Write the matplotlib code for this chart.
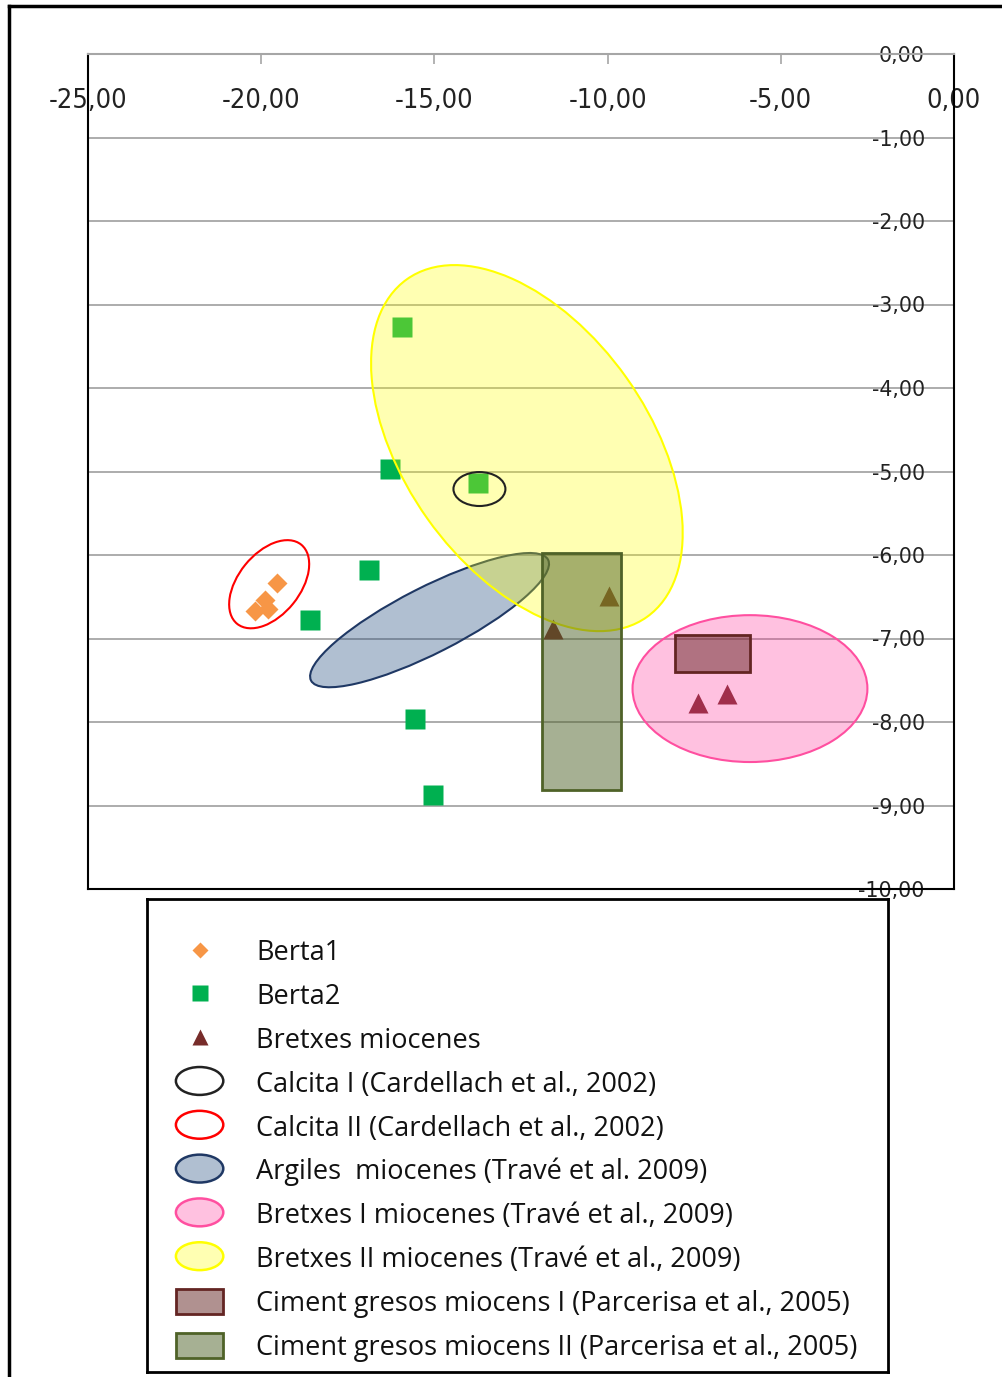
import matplotlib
matplotlib.use('Agg')
import matplotlib.pyplot as plt
import matplotlib.patches as mpatches
from matplotlib.lines import Line2D
from matplotlib.legend_handler import HandlerPatch
from matplotlib.transforms import Affine2D
from matplotlib.colors import to_rgba

plt.rcParams['font.family'] = ['Open Sans', 'DejaVu Sans']

# samples
berta1_x = [-19.55, -19.89, -20.18, -19.80]
berta1_y = [-6.34, -6.54, -6.67, -6.65]

berta2_x = [-15.94, -16.28, -13.74, -16.90, -18.59, -15.55, -15.03]
berta2_y = [-3.27, -4.97, -5.14, -6.18, -6.78, -7.96, -8.87]

bretxes_x = [-9.97, -11.57, -7.38, -6.54]
bretxes_y = [-6.49, -6.89, -7.77, -7.67]

# literature fields: centre x, centre y, semi axes (in x units), angle
ell_names = ['Calcita I (Cardellach et al., 2002)',
             'Calcita II (Cardellach et al., 2002)',
             'Argiles  miocenes (Travé et al. 2009)',
             'Bretxes I miocenes (Travé et al., 2009)',
             'Bretxes II miocenes (Travé et al., 2009)']
ell_cx = [-13.70, -19.77, -15.14, -5.89, -12.33]
ell_cy = [-5.21, -6.35, -6.78, -7.60, -4.72]
ell_a = [0.75, 1.47, 3.84, 3.39, 5.98]
ell_b = [0.49, 0.89, 0.95, 2.12, 3.52]
ell_ang = [0, 51, 27, 0, -54.6]
ell_edge = ['#222222', '#ff0000', '#1f3864', '#ff4fa0', '#ffff00']
ell_face = [None, None, '#1f497d', '#ff3399', '#ffff00']
ell_alpha = [0, 0, 0.35, 0.3, 0.3]

rect_names = ['Ciment gresos miocens I (Parcerisa et al., 2005)',
              'Ciment gresos miocens II (Parcerisa et al., 2005)']
rect_x0 = [-8.05, -11.88]
rect_x1 = [-5.89, -9.61]
rect_y0 = [-7.40, -8.81]
rect_y1 = [-6.96, -5.98]
rect_col = ['#632523', '#4f6228']

xticks = [-25, -20, -15, -10, -5, 0]
yticks = [0, -1, -2, -3, -4, -5, -6, -7, -8, -9, -10]


def fmt(v):
    return f'{v:.2f}'.replace('.', ',')


W, H = 1003, 1377
fig = plt.figure(figsize=(W / 100, H / 100), dpi=100)

# outer frame
fig.add_artist(Line2D([9 / W, 1], [1 - 6 / H, 1 - 6 / H], color='black', lw=2.5, transform=fig.transFigure))
fig.add_artist(Line2D([9 / W, 9 / W], [0, 1 - 6 / H], color='black', lw=2.5, transform=fig.transFigure))

ax = fig.add_axes([88 / W, 1 - 889 / H, 866 / W, 835 / H])
ax.set_xlim(-25, 0)
ax.set_ylim(-10, 0)

ax.plot(berta1_x, berta1_y, 'D', color='#f79646', ms=10.5, mec='none', zorder=3)
ax.plot(berta2_x, berta2_y, 's', color='#00b050', ms=14.5, mec='none', zorder=3)
ax.plot(bretxes_x, bretxes_y, '^', color='#772c2a', ms=15, mec='none', zorder=3)

# ellipses drawn in a space with equal pixel scale
pos = ax.get_position()
k = (pos.height * H / 10) / (pos.width * W / 25)
tr = Affine2D().scale(1, 1 / k) + ax.transData
draw_order = [2, 4, 0, 1, 3]
for i in draw_order:
    fc = 'none' if ell_face[i] is None else to_rgba(ell_face[i], ell_alpha[i])
    e = mpatches.Ellipse((ell_cx[i], ell_cy[i] * k), 2 * ell_a[i], 2 * ell_b[i], angle=ell_ang[i],
                         facecolor=fc, edgecolor=ell_edge[i], lw=1.5, transform=tr, zorder=4)
    ax.add_patch(e)

for i in range(len(rect_names)):
    r = mpatches.Rectangle((rect_x0[i], rect_y0[i]), rect_x1[i] - rect_x0[i], rect_y1[i] - rect_y0[i],
                           facecolor=to_rgba(rect_col[i], 0.5), edgecolor=rect_col[i], lw=2, zorder=5)
    ax.add_patch(r)

# axes styling
ax.set_axisbelow(True)
ax.yaxis.grid(True, color='#a6a6a6', lw=1.3)
ax.xaxis.tick_top()
ax.set_xticks(xticks, labels=[fmt(v) for v in xticks])
ax.tick_params(axis='x', direction='in', length=7, width=1.2, color='#a6a6a6', pad=-43.5,
               labelcolor='#222222')
for lab in ax.get_xticklabels():
    lab.set_family('DejaVu Sans')
    lab.set_fontstretch('condensed')
    lab.set_fontsize(19.5)
ax.yaxis.tick_right()
ax.set_yticks(yticks, labels=[fmt(v) for v in yticks])
ax.tick_params(axis='y', length=0, pad=-21, labelsize=14.8, labelcolor='#222222',
               labelfontfamily=['DejaVu Sans'])
for t in ax.yaxis.get_major_ticks():
    t.label2.set_horizontalalignment('right')

for s in ['left', 'bottom', 'right']:
    ax.spines[s].set_color('black')
    ax.spines[s].set_linewidth(1.5)
ax.spines['top'].set_color('#a6a6a6')
ax.spines['top'].set_linewidth(1.5)

# legend box
lax = fig.add_axes([147 / W, (H - 1372) / H, 741 / W, 473 / H])
lax.set_xticks([])
lax.set_yticks([])
for s in lax.spines.values():
    s.set_linewidth(2)
    s.set_color('black')


def make_ellipse(legend, orig_handle, xdescent, ydescent, width, height, fontsize):
    return mpatches.Ellipse(xy=(0.5 * width - 0.5 * xdescent, 0.5 * height - 0.5 * ydescent),
                            width=width + xdescent, height=height + ydescent)


handles = [
    Line2D([], [], marker='D', ls='none', color='#f79646', ms=10.5, mec='none'),
    Line2D([], [], marker='s', ls='none', color='#00b050', ms=14.5, mec='none'),
    Line2D([], [], marker='^', ls='none', color='#772c2a', ms=15, mec='none'),
]
labels = ['Berta1', 'Berta2', 'Bretxes miocenes']
for i in range(len(ell_names)):
    fc = 'none' if ell_face[i] is None else to_rgba(ell_face[i], ell_alpha[i])
    handles.append(mpatches.Ellipse((0, 0), 1, 1, facecolor=fc, edgecolor=ell_edge[i], lw=1.8))
    labels.append(ell_names[i])
for i in range(len(rect_names)):
    handles.append(mpatches.Rectangle((0, 0), 1, 1, facecolor=to_rgba(rect_col[i], 0.5),
                                      edgecolor=rect_col[i], lw=2))
    labels.append(rect_names[i])

lax.legend(handles, labels, loc='upper left', bbox_to_anchor=(0.039, 0.916), frameon=False,
           borderpad=0, borderaxespad=0, handlelength=1.75, handleheight=1.03, handletextpad=1.22,
           labelspacing=0.56, fontsize=19.5, markerscale=0.8, labelcolor='#111111',
           handler_map={mpatches.Ellipse: HandlerPatch(patch_func=make_ellipse)})

fig.savefig('out.png', dpi=100)
